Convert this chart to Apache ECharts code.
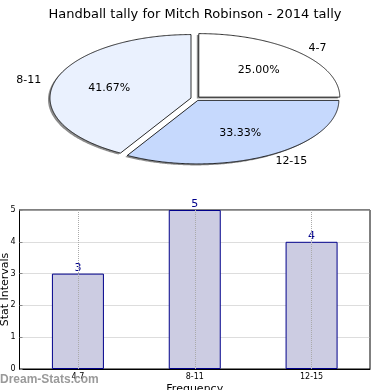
<!DOCTYPE html>
<html>
<head>
<meta charset="utf-8">
<script src="https://cdn.jsdelivr.net/npm/echarts@6/dist/echarts.min.js"></script>
<style>html,body{margin:0;padding:0;background:#fff}#c{width:390px;height:390px}</style>
</head>
<body>
<div id="c"></div>
<script>
const titleText = 'Handball tally for Mitch Robinson - 2014 tally';
const categories = ['4-7', '8-11', '12-15'];
const counts = [3, 5, 4];
const yTicks = [0, 1, 2, 3, 4, 5];
const xAxisName = 'Frequency';
const yAxisName = 'Stat Intervals';
const watermark = 'Dream-Stats.com';

const pieColors = ['#ffffff', '#eaf1fe', '#c6d9fd'];
const FONT = 'DejaVu Sans';
const PIE = { cx: 195.5, cy: 98.6, rx: 141, ry: 63.5, explode: 0.033 };

const total = counts.reduce((a, b) => a + b, 0);
function sliceGeom(i) {
  let before = 0;
  for (let k = 0; k < i; k++) before += counts[k];
  const a0 = before / total * 360;
  const a1 = (before + counts[i]) / total * 360;
  const mid = (a0 + a1) / 2 * Math.PI / 180;
  const ox = PIE.cx + PIE.explode * PIE.rx * Math.cos(mid);
  const oy = PIE.cy - PIE.explode * PIE.ry * Math.sin(mid);
  const pts = [[ox, oy]];
  for (let a = a0; a <= a1 + 1e-9; a += 0.5) {
    const r = a * Math.PI / 180;
    pts.push([ox + PIE.rx * Math.cos(r), oy - PIE.ry * Math.sin(r)]);
  }
  return { a0, a1, mid, ox, oy, pts };
}

function renderShadow(params, api) {
  const g = sliceGeom(params.dataIndex);
  const pts = g.pts.map(p => [p[0] - 2, p[1] + 1.5]);
  return { type: 'polygon', shape: { points: pts }, style: { fill: 'rgba(0,0,0,0.45)' } };
}

function renderSlice(params, api) {
  const i = params.dataIndex;
  const g = sliceGeom(i);
  const v = api.value(0);
  const pct = (v / total * 100).toFixed(2) + '%';
  const cm = Math.cos(g.mid), sm = Math.sin(g.mid);
  const px = g.ox + 0.6 * PIE.rx * cm, py = g.oy - 0.6 * PIE.ry * sm;
  const lx = g.ox + 1.1 * PIE.rx * cm, ly = g.oy - 1.1 * PIE.ry * sm;
  return {
    type: 'group',
    children: [
      { type: 'polygon', shape: { points: g.pts },
        style: { fill: pieColors[i], stroke: '#000', lineWidth: 0.8 } },
      { type: 'text', style: { text: pct, x: px, y: py, align: 'center', verticalAlign: 'middle',
        fontSize: 11, fontFamily: FONT, fill: '#000' } },
      { type: 'text', style: { text: categories[i], x: lx, y: ly, align: cm >= 0 ? 'left' : 'right',
        verticalAlign: 'middle', fontSize: 11, fontFamily: FONT, fill: '#000' } }
    ]
  };
}

const chart = echarts.init(document.getElementById('c'), null, { renderer: 'canvas' });
chart.setOption({
  animation: false,
  backgroundColor: '#fff',
  title: {
    text: titleText, left: 'center', top: 3,
    textStyle: { fontSize: 13, fontWeight: 'normal', fontFamily: FONT, color: '#000' }
  },
  grid: {
    left: 19.5, top: 210, width: 350.5, height: 159,
    containLabel: false, outerBoundsMode: 'none',
    show: true, borderColor: '#000', borderWidth: 1, backgroundColor: 'transparent'
  },
  xAxis: {
    type: 'category', data: categories,
    axisLine: { lineStyle: { color: '#000' } },
    axisTick: { inside: true, alignWithLabel: true, length: 3, lineStyle: { color: '#888' } },
    axisLabel: { fontSize: 8, color: '#000', margin: 4, fontFamily: FONT },
    splitLine: { show: false },
    name: xAxisName, nameLocation: 'middle', nameGap: 15,
    nameTextStyle: { fontSize: 11, fontFamily: FONT, color: '#000' }
  },
  yAxis: {
    type: 'value', min: yTicks[0], max: yTicks[yTicks.length - 1], interval: 1,
    axisLine: { show: true, lineStyle: { color: '#000' } },
    axisTick: { show: true, inside: true, length: 3, lineStyle: { color: '#888' } },
    axisLabel: { fontSize: 8, color: '#000', margin: 4, fontFamily: FONT },
    splitLine: { show: true, lineStyle: { type: 'dotted', color: '#bbb', width: 1 } }
  },
  series: [
    {
      type: 'bar', data: counts, barWidth: 52,
      itemStyle: { color: '#ccccE2', borderColor: '#00008b', borderWidth: 1 },
      label: { show: true, position: 'top', distance: 0, color: '#00008b', fontSize: 11, fontFamily: FONT },
      markLine: {
        silent: true, symbol: ['none', 'none'], label: { show: false },
        lineStyle: { type: 'dotted', color: '#aaa', width: 1 },
        data: categories.map(c => ({ xAxis: c }))
      }
    },
    { type: 'custom', coordinateSystem: 'none', z: 1, data: counts, renderItem: renderShadow, silent: true },
    { type: 'custom', coordinateSystem: 'none', z: 2, data: counts, renderItem: renderSlice, silent: true }
  ],
  graphic: [
    { type: 'text', x: 5, y: 289.5, rotation: Math.PI / 2, z: 100,
      style: { text: yAxisName, align: 'center', verticalAlign: 'middle',
        fontSize: 11, fontFamily: FONT, fill: '#000' } },
    { type: 'text', left: 0, top: 374, z: 100,
      style: { text: watermark, fontSize: 12, fontWeight: 'bold', fontFamily: 'Liberation Sans', fill: '#9a9a9a' } }
  ]
});
</script>
</body>
</html>
